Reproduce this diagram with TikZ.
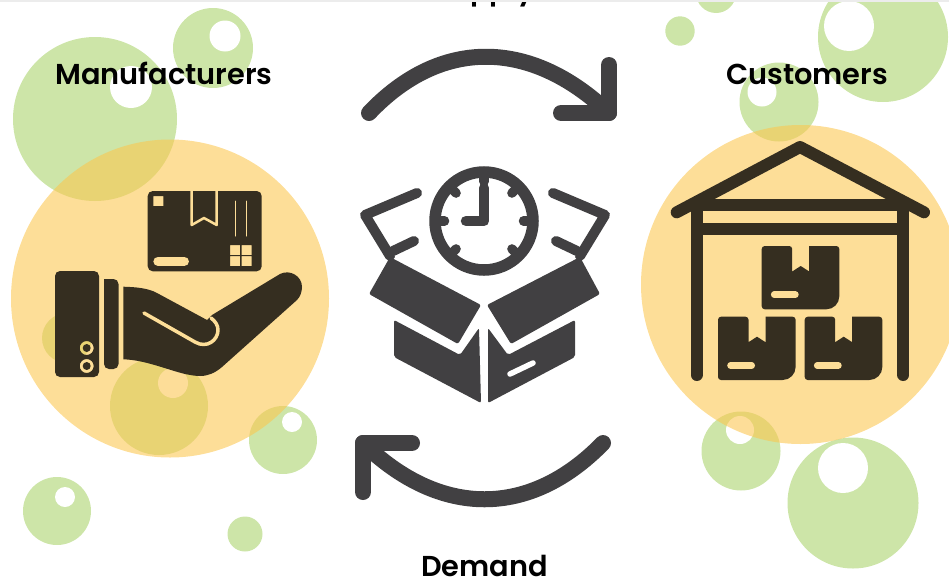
\documentclass[tikz,border=0pt]{standalone}
\usepackage{fontspec}
\setmainfont{Poppins}[UprightFont=* SemiBold]
\usetikzlibrary{positioning,calc}
\definecolor{bubblegreen}{RGB}{205,229,168}
\definecolor{discorange}{RGB}{252,198,78}
\definecolor{discbg}{RGB}{253,222,152}
\definecolor{icongray}{RGB}{65,64,66}
\definecolor{icondark}{RGB}{53,46,32}
\tikzset{
    bubble/.style={fill=bubblegreen},
    shine/.style={fill=white},
    disc/.style={fill=discorange, fill opacity=0.58},
    grayline/.style={draw=icongray, line cap=round, line join=round},
    darkline/.style={draw=icondark, line width=12pt, line join=round},
    cutline/.style={draw=discbg, line cap=round, line join=round},
    heading/.style={text=black, font=\fontsize{28.8}{32}\selectfont, anchor=base, inner sep=0pt}
}

\begin{document}
\begin{tikzpicture}[x=1pt,y=-1pt]
    \useasboundingbox (0,0) rectangle (949,581);
    \clip (0,0) rectangle (949,581);
    % Bubbles
    \foreach \cx/\cy/\rad in {95/119/82, 213/48/40, 67/338/25, 159/406/49, 283/440/34, 57/511/34,
        741/451/39.5, 853/503/65.5, 883/37/65, 716/-7/20, 680/31/14.7, 779/102/39.5}
        \fill[bubble] (\cx,\cy) circle[radius=\rad pt];
    \begin{scope}
        \clip (225,510) rectangle (265,551);
        \fill[bubble] (245,534) circle[radius=17.5pt];
    \end{scope}
    \foreach \cx/\cy/\rad in {131/87/21, 225/36/15.5, 173/383/15, 292/422/10, 65/497/10,
        740/430/14, 843/468/25, 849/26/25, 762/92/14.5}
        \fill[shine] (\cx,\cy) circle[radius=\rad pt];
    % Discs
    \fill[disc] (170,298.5) circle[radius=159pt];
    \fill[disc] (800.5,284.5) circle[radius=159.5pt];
    % Cycle arrows
    \draw[grayline, line width=16pt] (369,113) .. controls (440,38) and (530,38) .. (609,113);
    \draw[grayline, line width=16pt] (609,65) -- (609,113) -- (561,113);
    \draw[grayline, line width=16pt] (603,443) .. controls (530,518) and (440,518) .. (363,443);
    \draw[grayline, line width=16pt] (412,443) -- (363,443) -- (363,492);
    % Clock
    \draw[icongray, line width=11.5pt] (484,221) circle[radius=49pt];
    \draw[grayline, line width=10.5pt] (484,188) -- (484,221) -- (466,221);
    \foreach \ang in {0,45,135,180,225,270,315}
        \draw[grayline, line width=9.5pt] ($(484,221)+(\ang:45)$) -- ($(484,221)+(\ang:39.5)$);
    % Open box
    \draw[grayline, line width=10pt] (417,193) -- (365,215) -- (390,256);
    \draw[grayline, line width=10pt] (414,241) -- (393,251);
    \draw[grayline, line width=10pt] (553,193) -- (605,215) -- (580,256);
    \draw[grayline, line width=10pt] (556,241) -- (577,251);
    \fill[icongray, rounded corners=2pt] (390,257) -- (481,305) -- (458,344) -- (369,294) -- cycle;
    \fill[icongray, rounded corners=2pt] (580,257) -- (487,305) -- (511,344) -- (600,294) -- cycle;
    \fill[icongray, rounded corners=2pt] (394,320) -- (460,355) -- (479,328) -- (481,403) -- (394,357) -- cycle;
    \fill[icongray, rounded corners=2pt] (575,320) -- (508,355) -- (488,328) -- (488,403) -- (575,357) -- cycle;
    \draw[line width=5.5pt, white, line cap=round] (510,374) -- (533,363);
    % Hand with parcel
    \fill[icondark, even odd rule, rounded corners=5pt] (55,271) rectangle (99,377)
        [sharp corners] (86.7,348) circle[radius=7pt] (86.7,348) circle[radius=4pt]
        (86.7,366) circle[radius=7pt] (86.7,366) circle[radius=4pt];
    \fill[icondark, rounded corners=5pt] (104,279) -- (118.5,279) -- (118.5,369) -- (104,369) [sharp corners] -- cycle;
    \fill[icondark] (123.3,286.7) .. controls (135,287) and (148,288) .. (157,293) -- (207,320) -- (212,315)
        -- (280,274) .. controls (290,269) and (302,276) .. (302,287) .. controls (302,292) and (300,297) .. (297,300)
        -- (222,367) .. controls (215,373) and (208,376) .. (200,376) .. controls (195,376) and (190,375) .. (185,374)
        .. controls (165,369) and (145,360) .. (123.3,359.3) -- cycle;
    \draw[cutline, line width=3.5pt] (144,313) -- (195,342) .. controls (207,349) and (218,340) .. (218,330)
        .. controls (218,325) and (215,321) .. (211,318);
    \fill[icondark, even odd rule, rounded corners=5pt] (147.7,191) rectangle (261.7,271.3)
        [sharp corners] (153.3,196) rectangle (163.3,206)
        (230,245) rectangle (240,255) (241.7,245) rectangle (251.7,255)
        (230,256) rectangle (240,266) (241.7,256) rectangle (251.7,266);
    \draw[cutline, line width=9.3pt] (158,261.3) -- (184.3,261.3);
    \draw[cutline, line width=2.5pt, line cap=butt] (191.7,191) -- (191.7,225) -- (204,218) -- (216.7,225) -- (216.7,191);
    \draw[cutline, line width=1pt] (235,201) -- (235,236);
    \draw[cutline, line width=1pt] (246.7,201) -- (246.7,236);
    % Warehouse
    \draw[darkline, line cap=round] (676.7,212.3) -- (800,147) -- (924,212.3);
    \draw[darkline] (691,205) -- (909,205);
    \draw[darkline] (696.7,228.5) -- (903.3,228.5);
    \draw[darkline, line cap=round] (696.7,205) -- (696.7,375);
    \draw[darkline, line cap=round] (903.3,205) -- (903.3,375);
    \foreach \bx/\by in {761.7/246, 718/316.7, 804.7/316.7} {
        \begin{scope}[shift={(\bx,\by)}]
            \fill[icondark, rounded corners=3pt] (0,0) -- (30.5,0) [sharp corners] -- (30.5,25.5) -- (39,20) -- (47.5,25.5) -- (47.5,0)
                [rounded corners=3pt] -- (77.6,0) -- (77.6,30) [rounded corners=13pt] -- (77.6,63.3) [rounded corners=3pt] -- (0,63.3) -- cycle;
            \draw[cutline, line width=6.6pt] (12.5,48.7) -- (33.7,48.7);
        \end{scope}
    }
    % Labels
    \node[heading] (manufacturers) at (164,84) {Manufacturers};
    \node[heading] (customers) at (807,84) {Customers};
    \node[heading] (supply) at (484,-1) {Supply};
    \node[heading] (demand) at (484.5,576) {Demand};
    % Top edge
    \fill[gray!15] (0,0) rectangle (949,1.5);
\end{tikzpicture}
\end{document}
